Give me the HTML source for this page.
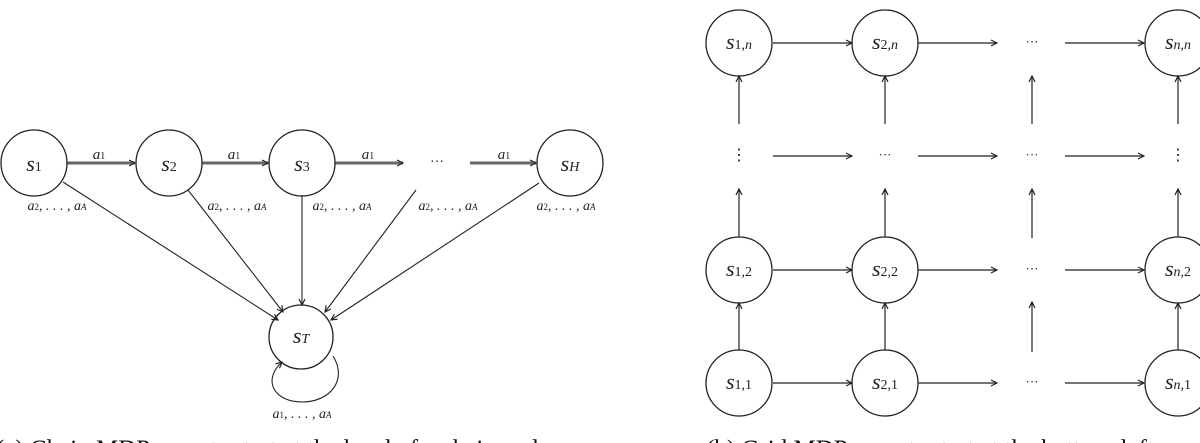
<!DOCTYPE html>
<html><head><meta charset="utf-8"><style>
body{margin:0;background:#fff;width:1200px;height:443px;overflow:hidden}
svg{display:block}
.m{font-family:"Liberation Serif",serif;font-style:italic}
.cap{font-family:"Liberation Serif",serif;font-size:25px;fill:#111}
</style></head><body>
<svg width="1200" height="443" viewBox="0 0 1200 443">
<defs>
<marker id="ah" markerWidth="8" markerHeight="8" refX="7" refY="4" orient="auto" markerUnits="userSpaceOnUse">
<path d="M1,1 L7,4 L1,7" fill="none" stroke="#222" stroke-width="1.2"/></marker>
</defs>
<g stroke="#222" fill="none" stroke-width="1.3">
<g stroke="#666" stroke-width="3">
<line x1="67" y1="163" x2="135" y2="163" marker-end="url(#ah)"/>
<line x1="202" y1="163" x2="268" y2="163" marker-end="url(#ah)"/>
<line x1="335" y1="163" x2="403" y2="163" marker-end="url(#ah)"/>
<line x1="470" y1="163" x2="536" y2="163" marker-end="url(#ah)"/>
</g>
<g stroke-width="1.1">
<line x1="63" y1="182" x2="278" y2="320" marker-end="url(#ah)"/>
<line x1="188" y1="190" x2="283" y2="312" marker-end="url(#ah)"/>
<line x1="302" y1="195" x2="302" y2="305" marker-end="url(#ah)"/>
<line x1="416" y1="190" x2="325" y2="312" marker-end="url(#ah)"/>
<line x1="539" y1="183" x2="331" y2="320" marker-end="url(#ah)"/>
<path d="M333,356 C348,380 330,402 302,402 C274,402 262,380 282,362" marker-end="url(#ah)"/>
</g>
<circle cx="34" cy="163" r="33"/>
<circle cx="169" cy="163" r="33"/>
<circle cx="302" cy="163" r="33"/>
<circle cx="570" cy="163" r="33"/>
<circle cx="301" cy="337" r="32"/>
</g>
<g class="m" fill="#222" text-anchor="middle">
<text x="34" y="171" font-size="22">s<tspan font-size="14" font-style="normal">1</tspan></text>
<text x="169" y="171" font-size="22">s<tspan font-size="14" font-style="normal">2</tspan></text>
<text x="302" y="171" font-size="22">s<tspan font-size="14" font-style="normal">3</tspan></text>
<text x="570" y="171" font-size="22">s<tspan font-size="14">H</tspan></text>
<text x="301" y="343" font-size="22">s<tspan font-size="14">T</tspan></text>
<text x="437" y="166" font-size="14" font-style="normal">···</text>
<g font-size="15">
<text x="99" y="159">a<tspan font-size="10" font-style="normal">1</tspan></text>
<text x="234" y="159">a<tspan font-size="10" font-style="normal">1</tspan></text>
<text x="368" y="159">a<tspan font-size="10" font-style="normal">1</tspan></text>
<text x="504" y="159">a<tspan font-size="10" font-style="normal">1</tspan></text>
</g>
<g font-size="14">
<text x="57" y="210">a<tspan font-size="9" font-style="normal">2</tspan>, . . . , a<tspan font-size="9">A</tspan></text>
<text x="237" y="210">a<tspan font-size="9" font-style="normal">2</tspan>, . . . , a<tspan font-size="9">A</tspan></text>
<text x="342" y="210">a<tspan font-size="9" font-style="normal">2</tspan>, . . . , a<tspan font-size="9">A</tspan></text>
<text x="448" y="210">a<tspan font-size="9" font-style="normal">2</tspan>, . . . , a<tspan font-size="9">A</tspan></text>
<text x="566" y="210">a<tspan font-size="9" font-style="normal">2</tspan>, . . . , a<tspan font-size="9">A</tspan></text>
<text x="302" y="418">a<tspan font-size="9" font-style="normal">1</tspan>, . . . , a<tspan font-size="9">A</tspan></text>
</g>
</g>
<text class="cap" x="-4" y="457">(a) Chain MDP: agents start at the head of a chain and</text>

<g stroke="#222" fill="none" stroke-width="1.3">
<g stroke-width="1.2">
<line x1="773" y1="43" x2="852" y2="43" marker-end="url(#ah)"/><line x1="918" y1="43" x2="997" y2="43" marker-end="url(#ah)"/><line x1="1065" y1="43" x2="1144" y2="43" marker-end="url(#ah)"/>
<line x1="773" y1="156" x2="852" y2="156" marker-end="url(#ah)"/><line x1="918" y1="156" x2="997" y2="156" marker-end="url(#ah)"/><line x1="1065" y1="156" x2="1144" y2="156" marker-end="url(#ah)"/>
<line x1="773" y1="270" x2="852" y2="270" marker-end="url(#ah)"/><line x1="918" y1="270" x2="997" y2="270" marker-end="url(#ah)"/><line x1="1065" y1="270" x2="1144" y2="270" marker-end="url(#ah)"/>
<line x1="773" y1="383" x2="852" y2="383" marker-end="url(#ah)"/><line x1="918" y1="383" x2="997" y2="383" marker-end="url(#ah)"/><line x1="1065" y1="383" x2="1144" y2="383" marker-end="url(#ah)"/>
<line x1="739" y1="350" x2="739" y2="303" marker-end="url(#ah)"/><line x1="885" y1="350" x2="885" y2="303" marker-end="url(#ah)"/><line x1="1032" y1="352" x2="1032" y2="302" marker-end="url(#ah)"/><line x1="1178" y1="350" x2="1178" y2="303" marker-end="url(#ah)"/>
<line x1="739" y1="237" x2="739" y2="189" marker-end="url(#ah)"/><line x1="885" y1="237" x2="885" y2="189" marker-end="url(#ah)"/><line x1="1032" y1="238" x2="1032" y2="189" marker-end="url(#ah)"/><line x1="1178" y1="237" x2="1178" y2="189" marker-end="url(#ah)"/>
<line x1="739" y1="124" x2="739" y2="76" marker-end="url(#ah)"/><line x1="885" y1="124" x2="885" y2="76" marker-end="url(#ah)"/><line x1="1032" y1="124" x2="1032" y2="76" marker-end="url(#ah)"/><line x1="1178" y1="124" x2="1178" y2="76" marker-end="url(#ah)"/>
</g>
<circle cx="739" cy="43" r="33"/>
<circle cx="885" cy="43" r="33"/>
<circle cx="1178" cy="43" r="33"/>
<circle cx="739" cy="270" r="33"/>
<circle cx="885" cy="270" r="33"/>
<circle cx="1178" cy="270" r="33"/>
<circle cx="739" cy="383" r="33"/>
<circle cx="885" cy="383" r="33"/>
<circle cx="1178" cy="383" r="33"/>
</g>
<g class="m" fill="#222" text-anchor="middle" font-size="22">
<text x="739" y="49">s<tspan font-size="14" font-style="normal">1,</tspan><tspan font-size="14">n</tspan></text>
<text x="885" y="49">s<tspan font-size="14" font-style="normal">2,</tspan><tspan font-size="14">n</tspan></text>
<text x="1178" y="49">s<tspan font-size="14">n</tspan><tspan font-size="14" font-style="normal">,</tspan><tspan font-size="14">n</tspan></text>
<text x="739" y="276">s<tspan font-size="14" font-style="normal">1,2</tspan></text>
<text x="885" y="276">s<tspan font-size="14" font-style="normal">2,2</tspan></text>
<text x="1178" y="276">s<tspan font-size="14">n</tspan><tspan font-size="14" font-style="normal">,2</tspan></text>
<text x="739" y="389">s<tspan font-size="14" font-style="normal">1,1</tspan></text>
<text x="885" y="389">s<tspan font-size="14" font-style="normal">2,1</tspan></text>
<text x="1178" y="389">s<tspan font-size="14">n</tspan><tspan font-size="14" font-style="normal">,1</tspan></text>
<g font-size="13" font-style="normal">
<text x="1032" y="46">···</text><text x="885" y="159">···</text><text x="1032" y="159">···</text><text x="1032" y="273">···</text><text x="1032" y="386">···</text>
<text x="739" y="160" font-size="16">⋮</text><text x="1178" y="160" font-size="16">⋮</text>
</g>
</g>
<text class="cap" x="706" y="457">(b) Grid MDP: agents start at the bottom-left</text>
</svg>
</body></html>
